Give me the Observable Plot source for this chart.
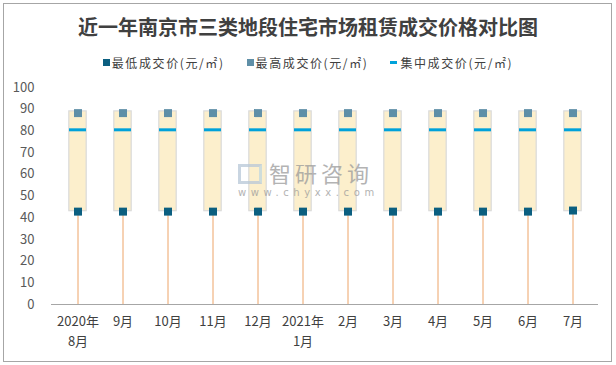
<!DOCTYPE html>
<html>
<head>
<meta charset="utf-8">
<script src="https://cdn.jsdelivr.net/npm/d3@7"></script>
<script src="https://cdn.jsdelivr.net/npm/@observablehq/plot@0.6"></script>
<style>
  body { margin: 0; background: #fff; font-family: "Noto Sans CJK SC", "Noto Sans", sans-serif; }
  #wrap { position: relative; width: 616px; height: 365px; overflow: hidden; }
  #frame { position: absolute; left: 3px; top: 3px; width: 607px; height: 357px; border: 1px solid #A6A6A6; pointer-events: none; }
  #title { height: 40px; box-sizing: border-box; padding-top: 14px; line-height: 26px; text-align: center; font-size: 20px; font-weight: 700; color: #404040; }
  #legend { height: 35px; box-sizing: border-box; padding-top: 10px; line-height: 22px; font-size: 12px; color: #404040; display: flex; justify-content: center; }
  .item { display: flex; align-items: center; margin: 0 11px; letter-spacing: 1.6px; }
  .sw { display: inline-block; width: 7px; height: 7px; margin-right: 2px; }
  .dash { display: inline-block; width: 7px; height: 3px; margin-right: 3px; }
  #wm { position: absolute; left: 238px; top: 158px; color: #9a9a9a; opacity: 0.75; pointer-events: none; }
  #wm .big { position: absolute; left: 31px; top: 0; font-size: 22px; letter-spacing: 4px; white-space: nowrap; line-height: 28px; }
  #wm .small { position: absolute; left: 0; top: 29px; font-size: 10px; letter-spacing: 4.6px; white-space: nowrap; font-family: "DejaVu Sans", sans-serif; }
  #wm .logo { position: absolute; left: 0; top: 6px; width: 24px; height: 20px; border: 3px solid #b8c8d8; box-sizing: border-box; border-right-color: #c0d8e0; }
</style>
</head>
<body>
<div id="wrap">
  <div id="title">近一年南京市三类地段住宅市场租赁成交价格对比图</div>
  <div id="legend"></div>
  <div id="chart"></div>
  <div id="wm"><div class="logo"></div><div class="big">智研咨询</div><div class="small">www.chyxx.com</div></div>
  <div id="frame"></div>
</div>
<script>
const months = ["2020年\n8月","9月","10月","11月","12月","2021年\n1月","2月","3月","4月","5月","6月","7月"];
const lowPrice  = [42.8,42.8,42.8,42.8,42.8,42.8,42.8,42.8,42.8,42.8,42.8,43.3];
const highPrice = [88.2,88.2,88.2,88.2,88.2,88.2,88.2,88.2,88.2,88.2,88.2,88.2];
const midPrice  = [80.5,80.5,80.5,80.5,80.5,80.5,80.5,80.5,80.5,80.5,80.5,80.5];
const boxBottom = [43,43,43,43,43,43,43,43,43,43,43,43];
const boxTop    = [89,89,89,89,89,89,89,89,89,89,89,89];
const seriesNames = ["最低成交价(元/㎡)","最高成交价(元/㎡)","集中成交价(元/㎡)"];
const yTicks = [0,10,20,30,40,50,60,70,80,90,100];

const colors = { low: "#0B5F80", high: "#5F8FA7", mid: "#00A2DA", box: "#FCEFCC", boxStroke: "#DADADA", whisker: "#EDA469" };

const data = months.map((m, i) => ({ m, low: lowPrice[i], high: highPrice[i], mid: midPrice[i], b0: boxBottom[i], b1: boxTop[i] }));

// legend
const leg = document.getElementById("legend");
[["sw", colors.low], ["sw", colors.high], ["dash", colors.mid]].forEach(([cls, c], i) => {
  const it = document.createElement("div"); it.className = "item";
  const s = document.createElement("span"); s.className = cls; s.style.background = c;
  it.appendChild(s); it.appendChild(document.createTextNode(seriesNames[i]));
  leg.appendChild(it);
});

const boxInset = 13.8;
const chart = Plot.plot({
  width: 616, height: 290,
  marginLeft: 51, marginRight: 18, marginTop: 12, marginBottom: 61,
  style: { fontFamily: "'Noto Sans CJK SC', 'Noto Sans', sans-serif", background: "transparent" },
  x: { type: "band", domain: months, padding: 0 },
  y: { domain: [0, 100] },
  marks: [
    Plot.ruleX(data, { x: "m", y1: 0, y2: "low", stroke: colors.whisker, strokeWidth: 1 }),
    Plot.barY(data, { x: "m", y1: "b0", y2: "b1", fill: colors.box, stroke: colors.boxStroke, strokeWidth: 1.2, insetLeft: boxInset, insetRight: boxInset }),
    Plot.tickY(data, { x: "m", y: "mid", stroke: colors.mid, strokeWidth: 3, insetLeft: 14, insetRight: 14 }),
    Plot.dot(data, { x: "m", y: "high", symbol: "square", r: 4.5, fill: colors.high }),
    Plot.dot(data, { x: "m", y: "low", symbol: "square", r: 4.5, fill: colors.low }),
    Plot.ruleY([0], { stroke: "#A6A6A6", strokeWidth: 1.2 }),
    Plot.axisY({ ticks: yTicks, tickSize: 0, tickPadding: 17, fontSize: 13, fill: "#595959", label: null }),
    Plot.axisX({ tickSize: 0, tickPadding: 8, fontSize: 13, fill: "#404040", lineHeight: 1.5, label: null })
  ]
});
document.getElementById("chart").appendChild(chart);
</script>
</body>
</html>
